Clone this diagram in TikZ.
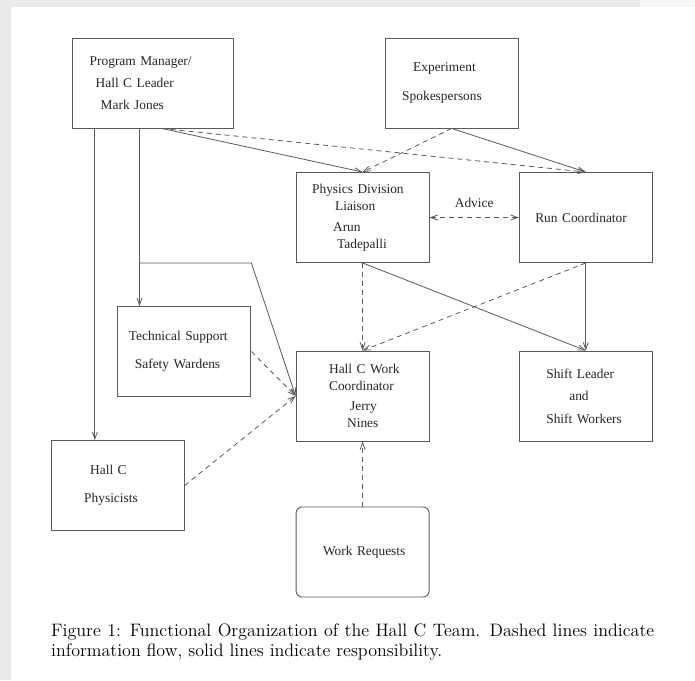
\documentclass[tikz,border=0pt]{standalone}
\usepackage{fontspec}
\newfontfamily\boxfont{Liberation Serif}
\newfontfamily\capfont{lmroman12-regular}[Extension=.otf]
\usetikzlibrary{arrows.meta}
\definecolor{linegray}{RGB}{90,90,90}
\definecolor{framegray}{RGB}{234,234,234}
\tikzset{
	orgbox/.style={draw=linegray, line width=0.9pt, text width=133pt, minimum height=90pt, inner xsep=0pt, align=left, font=\boxfont\fontsize{13.4}{16}\selectfont, text=black!85},
	resp/.style={draw=linegray, line width=0.8pt, ->},
	info/.style={resp, dash pattern=on 5pt off 4pt},
}

\begin{document}
\begin{tikzpicture}[x=1pt, y=-1pt, >={Straight Barb[length=7pt,width=5pt]}]
	% page and frame
	\fill[framegray] (0,0) rectangle (695,680);
	\fill[black!4] (640,0) rectangle (695,7);
	\fill[white] (11,7) rectangle (695,680);
	\useasboundingbox (0,0) rectangle (695,680);
	% boxes
	\node[orgbox, text width=161pt] (pm) at (153.2,83) {\hspace*{17pt}Program Manager/\\[6.7pt]\hspace*{23pt}Hall C Leader\\[5.7pt]\hspace*{28pt}Mark Jones};
	\node[orgbox] (exp) at (451.7,83) {\hspace*{28pt}Experiment\\[13pt]\hspace*{17pt}Spokespersons};
	\node[orgbox] (phys) at (362.6,217.5) {\hspace*{16pt}Physics Division\\[1pt]\hspace*{39pt}Liaison\\[5pt]\hspace*{37pt}Arun\\[1pt]\hspace*{41pt}Tadepalli};
	\node[orgbox] (run) at (585.8,217.5) {\hspace*{16pt}Run Coordinator};
	\node[orgbox] (tech) at (184.4,351.5) {\hspace*{11pt}Technical Support\\[12.3pt]\hspace*{17pt}Safety Wardens};
	\node[orgbox] (hcwc) at (362.6,396) {\hspace*{33pt}Hall C Work\\[1pt]\hspace*{33pt}Coordinator\\[3.7pt]\hspace*{54pt}Jerry\\[1.3pt]\hspace*{51pt}Nines};
	\node[orgbox] (shift) at (585.8,396) {\hspace*{27pt}Shift Leader\\[6.3pt]\hspace*{50pt}and\\[6.7pt]\hspace*{27pt}Shift Workers};
	\node[orgbox] (hallc) at (117.7,485.5) {\hspace*{39pt}Hall C\\[11.7pt]\hspace*{33pt}Physicists};
	\node[orgbox, rounded corners=6pt] (wr) at (362.6,552) {\hspace*{27pt}Work Requests};
	% start points under the manager box
	\coordinate (pmA) at ([xshift=22.6pt]pm.south west);
	\coordinate (pmB) at ([xshift=67.3pt]pm.south west);
	\coordinate (pmC) at ([xshift=8.6pt]pm.south);
	% responsibility (solid) and information flow (dashed)
	\draw[resp] (pmA) -- (pmA |- hallc.north);
	\draw[resp] (pmB) -- (pmB |- tech.north);
	\draw[resp] (pmB |- phys.south) -- (tech.east |- phys.south) -- (hcwc.west);
	\draw[resp] (pmC) -- (phys.north);
	\draw[info] (pmC) -- (run.north);
	\draw[resp] (exp.south) -- (run.north);
	\draw[info] (exp.south) -- (phys.north);
	\draw[info, <->] (phys.east) -- node[above=9pt, inner sep=0pt, font=\boxfont\fontsize{13.4}{16}\selectfont, text=black!85] (advice) {Advice} (run.west);
	\draw[info] (phys.south) -- (hcwc.north);
	\draw[resp] (phys.south) -- (shift.north);
	\draw[resp] (run.south) -- (shift.north);
	\draw[info] (run.south) -- (hcwc.north);
	\draw[info] (tech.east) -- (hcwc.west);
	\draw[info] (hallc.east) -- (hcwc.west);
	\draw[info] (wr.north) -- (hcwc.south);
	% caption
	\node[anchor=north west, inner sep=0pt, text width=603pt, align=justify, font=\capfont\fontsize{18}{20.6}\selectfont] (caption) at (51,623.5) {Figure 1: Functional Organization of the Hall C Team.  Dashed lines indicate information flow, solid lines indicate responsibility.};
\end{tikzpicture}
\end{document}
